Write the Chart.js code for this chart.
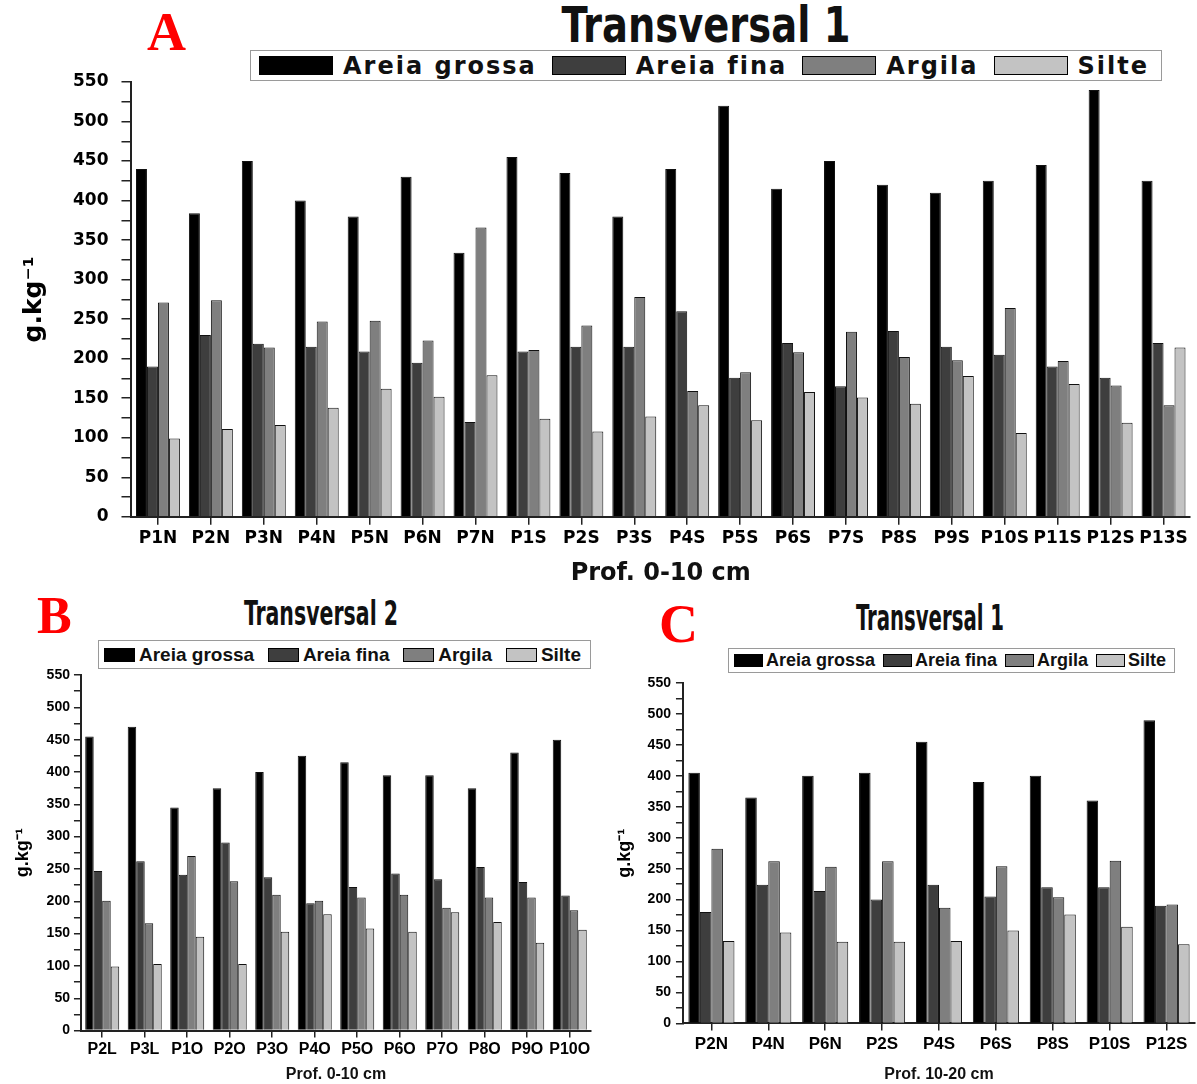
<!DOCTYPE html>
<html>
<head>
<meta charset="utf-8">
<script src="https://cdn.jsdelivr.net/npm/chart.js@4.4.0/dist/chart.umd.min.js"></script>
<style>
  body { margin: 0; background: #fff; width: 1197px; height: 1084px; position: relative; overflow: hidden; }
  .panel { position: absolute; }
  .letter { position: absolute; font-family: 'Liberation Serif', serif; font-weight: bold; color: #ff0000; line-height: 1; }
  .title { position: absolute; width: 600px; text-align: center; font-family: 'DejaVu Sans Condensed', sans-serif; font-weight: bold; white-space: nowrap; line-height: 1; transform-origin: center top; color: #111; }
  .legend { position: absolute; box-sizing: border-box; border: 1.5px solid #9a9a9a; display: flex; align-items: center; justify-content: space-between; background: #fff; white-space: nowrap; }
  .legend .item { display: flex; align-items: center; }
  .legend .sw { display: inline-block; box-sizing: border-box; border: 1px solid #000; }
</style>
</head>
<body>

<div class="letter" style="left:147px;top:5px;font-size:54px;">A</div>
<div class="letter" style="left:37px;top:590px;font-size:52px;">B</div>
<div class="letter" style="left:659px;top:597px;font-size:54px;">C</div>

<div class="title" id="titleA" style="left:406px;top:-1px;font-size:48px;transform:scale(0.89,1.05);">Transversal 1</div>
<div class="title" id="titleB" style="left:21px;top:596px;font-size:30px;transform:scale(0.76,1.15);">Transversal 2</div>
<div class="title" id="titleC" style="left:630px;top:600px;font-size:30px;transform:scale(0.73,1.2);">Transversal 1</div>

<div class="legend" id="legA" style="left:250px;top:50px;width:912px;height:31px;padding:0 12px 0 8px;"></div>
<div class="legend" id="legB" style="left:98px;top:640px;width:493px;height:29px;padding:0 9px 0 5px;"></div>
<div class="legend" id="legC" style="left:728px;top:648px;width:447px;height:25px;padding:0 8px 0 5px;"></div>

<div class="panel" style="left:0;top:55px;width:1197px;height:539px;"><canvas id="chartA"></canvas></div>
<div class="panel" style="left:0;top:660px;width:597px;height:424px;"><canvas id="chartB"></canvas></div>
<div class="panel" style="left:600px;top:668px;width:597px;height:416px;"><canvas id="chartC"></canvas></div>

<script>
const seriesNames = ['Areia grossa', 'Areia fina', 'Argila', 'Silte'];
const seriesColors = ['#000000', '#3e3e3e', '#7f7f7f', '#c3c3c3'];
const yTicks = [0, 50, 100, 150, 200, 250, 300, 350, 400, 450, 500, 550];

// A - Transversal 1, Prof. 0-10 cm
const catsA = ['P1N', 'P2N', 'P3N', 'P4N', 'P5N', 'P6N', 'P7N', 'P1S', 'P2S', 'P3S',
               'P4S', 'P5S', 'P6S', 'P7S', 'P8S', 'P9S', 'P10S', 'P11S', 'P12S', 'P13S'];
const grossaA = [440, 384, 450, 400, 380, 430, 334, 455, 435, 380, 440, 520, 415, 450, 420, 410, 425, 445, 540, 425];
const finaA   = [190, 230, 219, 215, 209, 195, 120, 209, 215, 215, 260, 176, 220, 165, 235, 215, 205, 190, 176, 220];
const argilaA = [271, 274, 214, 247, 248, 223, 366, 211, 242, 278, 159, 183, 208, 234, 202, 198, 264, 197, 166, 141];
const silteA  = [99, 111, 116, 138, 162, 152, 179, 124, 108, 127, 141, 122, 158, 151, 143, 178, 106, 168, 119, 214];

// B - Transversal 2, Prof. 0-10 cm
const catsB = ['P2L', 'P3L', 'P1O', 'P2O', 'P3O', 'P4O', 'P5O', 'P6O', 'P7O', 'P8O', 'P9O', 'P10O'];
const grossaB = [455, 470, 345, 375, 400, 425, 415, 395, 395, 375, 430, 450];
const finaB   = [247, 262, 241, 291, 237, 197, 222, 243, 234, 253, 230, 209];
const argilaB = [201, 166, 270, 231, 210, 201, 206, 210, 190, 206, 206, 186];
const silteB  = [99, 103, 145, 103, 153, 180, 158, 153, 183, 168, 136, 156];

// C - Transversal 1, Prof. 10-20 cm
const catsC = ['P2N', 'P4N', 'P6N', 'P2S', 'P4S', 'P6S', 'P8S', 'P10S', 'P12S'];
const grossaC = [405, 365, 400, 405, 455, 390, 400, 360, 490];
const finaC   = [180, 224, 214, 200, 224, 205, 220, 220, 190];
const argilaC = [282, 262, 253, 262, 187, 254, 204, 263, 192];
const silteC  = [133, 147, 132, 132, 133, 150, 176, 156, 128];

function buildLegend(id, sw, font, gap, spacing) {
  const el = document.getElementById(id);
  seriesNames.forEach(function(name, i) {
    const item = document.createElement('div');
    item.className = 'item';
    const s = document.createElement('span');
    s.className = 'sw';
    s.style.width = sw[0] + 'px';
    s.style.height = sw[1] + 'px';
    s.style.background = seriesColors[i];
    s.style.marginRight = gap + 'px';
    const t = document.createElement('span');
    t.textContent = name;
    t.style.font = font;
    t.style.color = '#111';
    t.style.letterSpacing = spacing + 'px';
    item.appendChild(s);
    item.appendChild(t);
    el.appendChild(item);
  });
}

buildLegend('legA', [74, 19], "bold 24px 'DejaVu Sans', sans-serif", 10, 2);
buildLegend('legB', [31, 14], "bold 19px 'Liberation Sans', sans-serif", 4, 0);
buildLegend('legC', [29, 13], "bold 18px 'Liberation Sans', sans-serif", 3, 0);

function makeChart(id, cats, series, cfg) {
  return new Chart(document.getElementById(id), {
    type: 'bar',
    data: {
      labels: cats,
      datasets: seriesNames.map(function(name, i) {
        return {
          label: name,
          data: series[i],
          backgroundColor: seriesColors[i],
          borderColor: '#111',
          borderWidth: 1,
          categoryPercentage: cfg.cat,
          barPercentage: 1.0
        };
      })
    },
    options: {
      responsive: true,
      maintainAspectRatio: false,
      animation: false,
      layout: { padding: cfg.pad },
      plugins: {
        legend: { display: false },
        title: { display: false },
        tooltip: { enabled: false }
      },
      scales: {
        x: {
          grid: { display: true, drawOnChartArea: false, offset: false, color: '#222', lineWidth: 1.5, tickLength: cfg.xTick },
          border: { display: true, color: '#222', width: 2 },
          ticks: { color: '#000', font: cfg.xFont, autoSkip: false, maxRotation: 0, minRotation: 0, padding: cfg.xPad },
          title: { display: true, text: cfg.xTitle, color: '#111', font: cfg.xTitleFont, padding: { top: cfg.xTitlePad, bottom: 0 } }
        },
        y: {
          min: 0,
          max: 550,
          grid: { display: true, drawOnChartArea: false, color: '#222', lineWidth: 1.5, tickLength: cfg.yTick },
          border: { display: true, color: '#222', width: 2 },
          ticks: {
            stepSize: 25,
            autoSkip: false,
            color: '#000',
            font: cfg.yFont,
            padding: cfg.yPad,
            callback: function(v) { return yTicks.indexOf(v) >= 0 ? v : ''; }
          },
          title: { display: true, text: 'g.kg⁻¹', color: '#000', font: cfg.yTitleFont, padding: { top: 0, bottom: cfg.yTitlePad } }
        }
      }
    }
  });
}

const arialB = { family: 'Liberation Sans', weight: 'bold' };

makeChart('chartA', catsA, [grossaA, finaA, argilaA, silteA], {
  cat: 0.83,
  pad: { left: 19, right: 7, top: 27, bottom: 6 },
  xTick: 8, xPad: 4,
  xFont: { family: 'DejaVu Sans', weight: 'bold', size: 17 },
  xTitle: 'Prof. 0-10 cm',
  xTitleFont: { family: 'DejaVu Sans', weight: 'bold', size: 24 },
  xTitlePad: 6,
  yTick: 10, yPad: 13,
  yFont: { family: 'DejaVu Sans', weight: 'bold', size: 17 },
  yTitleFont: { family: 'DejaVu Sans', weight: 'bold', size: 25 },
  yTitlePad: 11
});

makeChart('chartB', catsB, [grossaB, finaB, argilaB, silteB], {
  cat: 0.80,
  pad: { left: 12, right: 6, top: 15, bottom: 0 },
  xTick: 7, xPad: 2,
  xFont: Object.assign({ size: 16 }, arialB),
  xTitle: 'Prof. 0-10 cm',
  xTitleFont: Object.assign({ size: 16 }, arialB),
  xTitlePad: 4,
  yTick: 7, yPad: 4,
  yFont: Object.assign({ size: 14 }, arialB),
  yTitleFont: Object.assign({ size: 18 }, arialB),
  yTitlePad: 9
});

makeChart('chartC', catsC, [grossaC, finaC, argilaC, silteC], {
  cat: 0.81,
  pad: { left: 14, right: 2, top: 15, bottom: 0 },
  xTick: 7, xPad: 4,
  xFont: Object.assign({ size: 17 }, arialB),
  xTitle: 'Prof. 10-20 cm',
  xTitleFont: Object.assign({ size: 16 }, arialB),
  xTitlePad: 6,
  yTick: 7, yPad: 5,
  yFont: Object.assign({ size: 14 }, arialB),
  yTitleFont: Object.assign({ size: 18 }, arialB),
  yTitlePad: 7
});
</script>
</body>
</html>
